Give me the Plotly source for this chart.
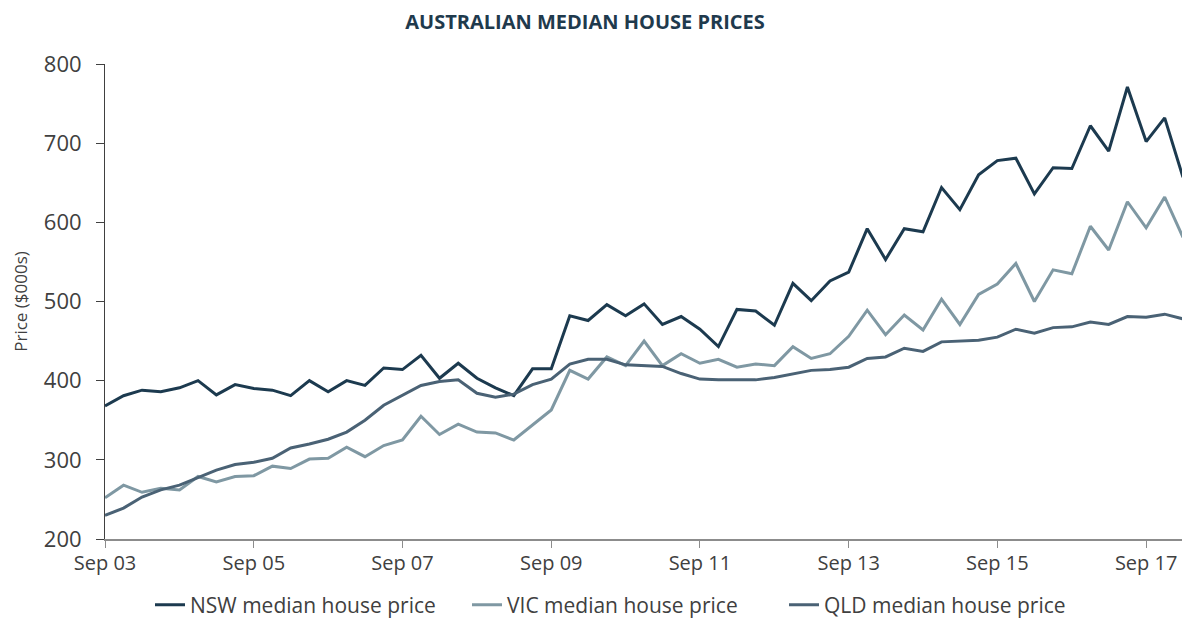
import pandas as pd
import plotly.graph_objects as go

quarters = pd.date_range("2003-09-01", "2018-03-01", freq="3MS").strftime("%Y-%m-%d").tolist()

nsw = [368, 381, 388, 386, 391, 400, 382, 395, 390, 388, 381, 400, 386, 400, 394, 416, 414, 432,
       403, 422, 403, 391, 381, 415, 415, 482, 476, 496, 482, 497, 471, 481, 465, 443, 490, 488,
       470, 523, 501, 526, 537, 592, 553, 592, 588, 644, 616, 660, 678, 681, 636, 669, 668, 722,
       690, 771, 702, 732, 657]
vic = [252, 268, 259, 264, 262, 279, 272, 279, 280, 292, 289, 301, 302, 316, 304, 318, 325, 355,
       332, 345, 335, 334, 325, 344, 363, 413, 402, 430, 419, 450, 419, 434, 422, 427, 417, 421,
       419, 443, 428, 434, 456, 489, 458, 483, 464, 503, 471, 509, 522, 548, 500, 540, 535, 595,
       565, 626, 593, 632, 581]
qld = [230, 239, 253, 262, 268, 278, 287, 294, 297, 302, 315, 320, 326, 335, 350, 369, 382, 394,
       399, 401, 384, 379, 383, 395, 402, 421, 427, 427, 420, 419, 418, 409, 402, 401, 401, 401,
       404, 409, 413, 414, 417, 428, 430, 441, 437, 449, 450, 451, 455, 465, 460, 467, 468, 474,
       471, 481, 480, 484, 478]

series = [
    ("NSW median house price", nsw, "#1c3a4f"),
    ("VIC median house price", vic, "#7f98a3"),
    ("QLD median house price", qld, "#4a6275"),
]

fig = go.Figure()
for name, vals, colour in series:
    fig.add_trace(go.Scatter(x=quarters, y=vals, name=name, mode="lines",
                             line=dict(color=colour, width=3)))

# the page body has an 8px margin, so the figure is made 8px smaller
W, H = 1182, 611
font = "Open Sans, Liberation Sans, sans-serif"
fig.update_layout(
    width=W, height=H,
    margin=dict(l=97, r=7, t=56, b=80),
    paper_bgcolor="white", plot_bgcolor="white",
    font=dict(family=font, color="#404040", size=17),
    title=dict(text="<b>AUSTRALIAN MEDIAN HOUSE PRICES</b>", x=577 / W, xanchor="center",
               y=1 - 14 / H, yanchor="middle",
               font=dict(size=20, color="#1f3a4d", family=font)),
    legend=dict(orientation="h", x=45 / 1078, xanchor="left",
                yref="container", y=14 / H, yanchor="middle",
                font=dict(size=21, color="#404040"), entrywidth=272),
)
fig.update_xaxes(
    range=[quarters[0], quarters[-1]], automargin=False,
    tickvals=quarters[::8], tickformat="%b %y",
    showgrid=False, showline=True, linecolor="#8c8c8c", linewidth=1.5,
    ticks="outside", ticklen=7, tickcolor="#8c8c8c", ticklabelstandoff=-2,
    tickfont=dict(size=20, color="#404040"),
)
fig.update_yaxes(
    range=[200, 800], dtick=100, automargin=False,
    title=dict(text="Price ($000s)", font=dict(size=17, color="#404040"), standoff=11),
    showgrid=False, showline=True, linecolor="#404040", linewidth=1,
    ticks="outside", ticklen=8, tickcolor="#404040", ticklabelstandoff=10,
    tickfont=dict(size=22, color="#404040"), zeroline=False,
)

fig.write_html("out.html")
